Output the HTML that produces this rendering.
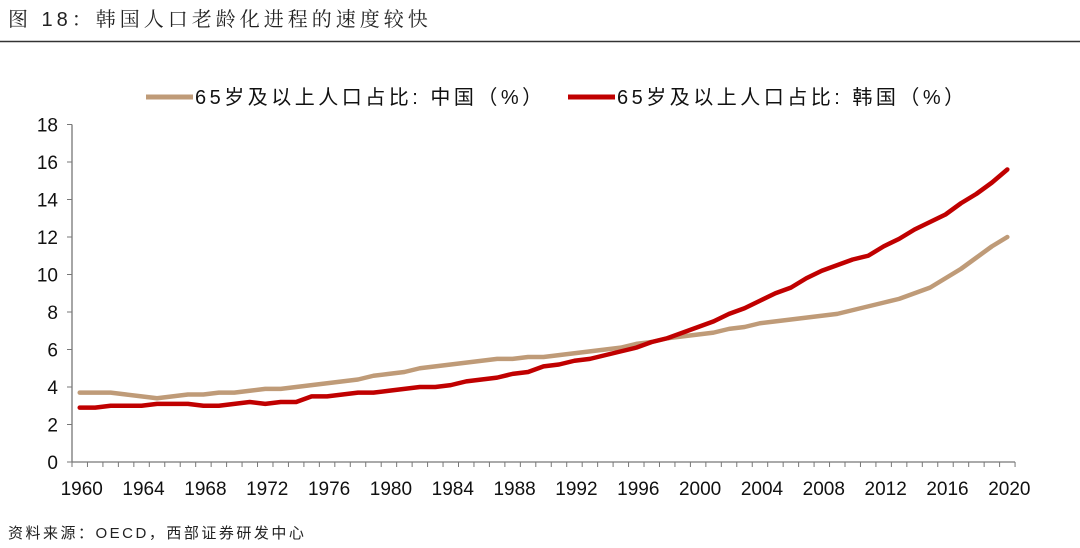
<!DOCTYPE html>
<html><head><meta charset="utf-8"><style>
body{margin:0;background:#fff;width:1080px;height:548px;overflow:hidden}
svg{display:block}
</style></head><body>
<svg id="chart" width="1080" height="548" font-family="'Liberation Sans','Noto Sans CJK SC',sans-serif">
<text x="8" y="26" font-size="20" fill="#222" letter-spacing="4" font-family="'Liberation Sans','Noto Serif CJK SC',serif">图 18：韩国人口老龄化进程的速度较快</text>
<line x1="0" y1="41.5" x2="1080" y2="41.5" stroke="#333" stroke-width="1.5"/>
<g>
<g><line x1="146" y1="97" x2="193" y2="97" stroke="#BF9B78" stroke-width="5"/><text x="195" y="104" font-size="20" fill="#111" letter-spacing="3.5">65岁及以上人口占比: 中国（%）</text></g>
<g><line x1="568" y1="97" x2="615" y2="97" stroke="#C00000" stroke-width="5"/><text x="617" y="104" font-size="20" fill="#111" letter-spacing="3.5">65岁及以上人口占比: 韩国（%）</text></g>
</g>
<g id="axes"></g>
<g id="series"></g>
<text x="8" y="538" font-size="15" fill="#222" letter-spacing="2.5">资料来源：OECD，西部证券研发中心</text>
</svg>
<script>
const years=[];for(let y=1960;y<=2020;y++)years.push(y);
const yTicks=[0,2,4,6,8,10,12,14,16,18];
const xTickLabels=[1960,1964,1968,1972,1976,1980,1984,1988,1992,1996,2000,2004,2008,2012,2016,2020];
const china=[3.7,3.7,3.7,3.6,3.5,3.4,3.5,3.6,3.6,3.7,3.7,3.8,3.9,3.9,4.0,4.1,4.2,4.3,4.4,4.6,4.7,4.8,5.0,5.1,5.2,5.3,5.4,5.5,5.5,5.6,5.6,5.7,5.8,5.9,6.0,6.1,6.3,6.4,6.6,6.7,6.8,6.9,7.1,7.2,7.4,7.5,7.6,7.7,7.8,7.9,8.1,8.3,8.5,8.7,9.0,9.3,9.8,10.3,10.9,11.5,12.0];
const korea=[2.9,2.9,3.0,3.0,3.0,3.1,3.1,3.1,3.0,3.0,3.1,3.2,3.1,3.2,3.2,3.5,3.5,3.6,3.7,3.7,3.8,3.9,4.0,4.0,4.1,4.3,4.4,4.5,4.7,4.8,5.1,5.2,5.4,5.5,5.7,5.9,6.1,6.4,6.6,6.9,7.2,7.5,7.9,8.2,8.6,9.0,9.3,9.8,10.2,10.5,10.8,11.0,11.5,11.9,12.4,12.8,13.2,13.8,14.3,14.9,15.6];
const NS='http://www.w3.org/2000/svg';
const x0=72,step=15.46,yBase=462,yPer=18.75;
const xs=i=>x0+step*(i+0.5);
const ys=v=>yBase-v*yPer;
function mk(t,a,p){const e=document.createElementNS(NS,t);for(const k in a)e.setAttribute(k,a[k]);p.appendChild(e);return e;}
const ax=document.getElementById('axes');
const yl=mk('line',{x1:x0,y1:ys(18),x2:x0,y2:yBase,stroke:'#777','stroke-width':1.3},ax);


const xl=mk('line',{x1:x0,y1:yBase,x2:x0+step*years.length,y2:yBase,stroke:'#777','stroke-width':1.3},ax);


yTicks.forEach(v=>{
 mk('line',{x1:x0-5,y1:ys(v),x2:x0,y2:ys(v),stroke:'#777'},ax);
 const t=mk('text',{x:x0-14,y:ys(v)+7,'font-size':19,'text-anchor':'end',fill:'#111'},ax);
 t.textContent=v;
 
 
});
for(let i=0;i<=years.length;i++)mk('line',{x1:x0+step*i,y1:yBase,x2:x0+step*i,y2:yBase+5,stroke:'#777'},ax);
xTickLabels.forEach(yr=>{
 const i=years.indexOf(yr);
 const t=mk('text',{x:xs(i)+2,y:yBase+33,'font-size':19,'text-anchor':'middle',fill:'#111'},ax);
 t.textContent=yr;
 
 
});
const sg=document.getElementById('series');
function line(d,c,name){
 const p=mk('polyline',{points:d.map((v,i)=>xs(i)+','+ys(v)).join(' '),fill:'none',stroke:c,'stroke-width':4.5,'stroke-linejoin':'round','stroke-linecap':'round'},sg);
 
 
}
line(china,'#BF9B78','series-china');
line(korea,'#C00000','series-korea');
</script>
</body></html>
